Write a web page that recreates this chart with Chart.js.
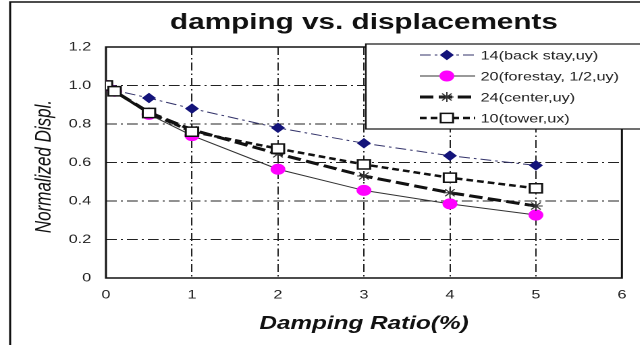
<!DOCTYPE html>
<html>
<head>
<meta charset="utf-8">
<script src="https://cdn.jsdelivr.net/npm/chart.js@4.4.1/dist/chart.umd.min.js"></script>
<style>
  html, body { margin: 0; padding: 0; background: #fff; }
  #wrap { width: 640px; height: 345px; overflow: hidden; position: relative; }
  /* the source picture is stretched sideways, so the canvas is too */
  #chart { transform-origin: 0 0; transform: scaleX(1.35); display: block; }
</style>
</head>
<body>
<div id="wrap"><canvas id="chart" width="474" height="345"></canvas></div>
<script>
// damping ratio (%) at each computed point
var dampingRatio = [0, 0.1, 0.5, 1, 2, 3, 4, 5];

// normalized displacement for each node
var backStay = [1.0, 0.975, 0.935, 0.88, 0.78, 0.70, 0.635, 0.585];
var foreStay = [1.0, 0.97, 0.85, 0.74, 0.565, 0.455, 0.385, 0.327];
var center   = [1.0, 0.97, 0.86, 0.77, 0.645, 0.53, 0.443, 0.374];
var tower    = [1.0, 0.97, 0.857, 0.76, 0.672, 0.59, 0.521, 0.466];

var seriesLabels = ["14(back stay,uy)", "20(forestay, 1/2,uy)", "24(center,uy)", "10(tower,ux)"];

var chartTitle = "damping vs. displacements";
var xTitle = "Damping Ratio(%)";
var yTitle = "Normalized Displ.";

function toPoints(ys) {
  var pts = [];
  for (var i = 0; i < dampingRatio.length; ++i) {
    pts.push({x: dampingRatio[i], y: ys[i]});
  }
  return pts;
}

Chart.defaults.font.family = "'Liberation Sans', Arial, sans-serif";
Chart.defaults.color = "#222";

// frame, titles and the boxed legend drawn on top of the plot
var decor = {
  id: 'decor',
  beforeDatasetsDraw: function(chart) {
    var a = chart.chartArea, ctx = chart.ctx;
    ctx.save();
    ctx.strokeStyle = "#111";
    ctx.lineWidth = 1.5;
    ctx.setLineDash([]);
    ctx.strokeRect(a.left, a.top, a.right - a.left, a.bottom - a.top);
    ctx.restore();
  },
  afterDraw: function(chart) {
    var ctx = chart.ctx, a = chart.chartArea;
    ctx.save();
    // outer frame
    ctx.strokeStyle = "#111";
    ctx.lineWidth = 1.5;
    ctx.strokeRect(7.5, 2, 600, 500);

    // title
    ctx.fillStyle = "#111";
    ctx.textAlign = "center";
    ctx.textBaseline = "alphabetic";
    ctx.font = "bold 22px 'Liberation Sans', Arial, sans-serif";
    ctx.fillText(chartTitle, (a.left + a.right) / 2, 29);

    // x axis title
    ctx.font = "italic bold 18px 'Liberation Sans', Arial, sans-serif";
    ctx.fillText(xTitle, (a.left + a.right) / 2, 329);

    // y axis title
    ctx.save();
    ctx.translate(33, (a.top + a.bottom) / 2 + 4);
    ctx.rotate(-Math.PI / 2);
    ctx.textBaseline = "middle";
    ctx.font = "italic 17px 'Liberation Sans', Arial, sans-serif";
    ctx.fillText(yTitle, 0, 0);
    ctx.restore();

    // legend box
    ctx.fillStyle = "#fff";
    ctx.fillRect(271, 44, 260, 85);
    ctx.strokeStyle = "#111";
    ctx.lineWidth = 1.2;
    ctx.strokeRect(271, 44, 260, 85);

    var ds = chart.data.datasets;
    for (var i = 0; i < ds.length; ++i) {
      var d = ds[i];
      var y = 55 + i * 21;
      ctx.strokeStyle = d.borderColor;
      ctx.lineWidth = d.borderWidth;
      ctx.setLineDash(d.borderDash || []);
      ctx.beginPath();
      ctx.moveTo(311, y);
      ctx.lineTo(352, y);
      ctx.stroke();
      ctx.setLineDash([]);
      ctx.fillStyle = d.pointBackgroundColor;
      ctx.strokeStyle = d.pointBorderColor;
      ctx.lineWidth = d.pointBorderWidth;
      Chart.helpers.drawPoint(ctx, {
        pointStyle: d.pointStyle, rotation: 0,
        radius: d.pointRadius, borderWidth: d.pointBorderWidth
      }, 331, y);
      ctx.fillStyle = "#222";
      ctx.textAlign = "left";
      ctx.textBaseline = "middle";
      ctx.font = "12px 'Liberation Sans', Arial, sans-serif";
      ctx.fillText(seriesLabels[i], 356, y + 1);
    }
    ctx.restore();
  }
};

var gridDash = {
  color: "#222",
  lineWidth: 1,
  drawTicks: false
};

new Chart(document.getElementById("chart"), {
  type: 'line',
  data: {
    datasets: [{
      label: seriesLabels[0],
      data: toPoints(backStay),
      borderColor: "#33336a",
      borderWidth: 1,
      borderDash: [8, 3, 2, 3],
      pointStyle: 'rectRot',
      pointRadius: 4.5,
      pointBackgroundColor: "#14147a",
      pointBorderColor: "#14147a",
      pointBorderWidth: 1,
      order: 4
    }, {
      label: seriesLabels[1],
      data: toPoints(foreStay),
      borderColor: "#333",
      borderWidth: 1,
      borderDash: [],
      pointStyle: 'circle',
      pointRadius: 5,
      pointBackgroundColor: "#ff00ff",
      pointBorderColor: "#ff00ff",
      pointBorderWidth: 1,
      order: 3
    }, {
      label: seriesLabels[2],
      data: toPoints(center),
      borderColor: "#111",
      borderWidth: 3,
      borderDash: [10, 4],
      pointStyle: 'star',
      pointRadius: 5,
      pointBackgroundColor: "#fff",
      pointBorderColor: "#333",
      pointBorderWidth: 1,
      order: 2
    }, {
      label: seriesLabels[3],
      data: toPoints(tower),
      borderColor: "#111",
      borderWidth: 2.5,
      borderDash: [5, 3],
      pointStyle: 'rect',
      pointRadius: 6.5,
      pointBackgroundColor: "#fff",
      pointBorderColor: "#111",
      pointBorderWidth: 1.5,
      order: 1
    }]
  },
  options: {
    responsive: false,
    animation: false,
    devicePixelRatio: 2,
    layout: { padding: { left: 38.5, right: 13.3, top: 47, bottom: 37 } },
    plugins: { legend: { display: false }, tooltip: { enabled: false } },
    elements: { line: { tension: 0 } },
    scales: {
      x: {
        type: 'linear',
        min: 0, max: 6,
        ticks: { stepSize: 1, padding: 10, font: { size: 12 }, color: "#222" },
        grid: gridDash,
        border: { display: false, dash: [8, 3, 1.5, 3] },
        afterFit: function(s) { s.height = 30; }
      },
      y: {
        min: 0, max: 1.2,
        ticks: { stepSize: 0.2, padding: 11, font: { size: 12 }, color: "#222" },
        grid: gridDash,
        border: { display: false, dash: [8, 3, 1.5, 3] },
        afterFit: function(s) { s.width = 40; }
      }
    }
  },
  plugins: [decor]
});
</script>
</body>
</html>
